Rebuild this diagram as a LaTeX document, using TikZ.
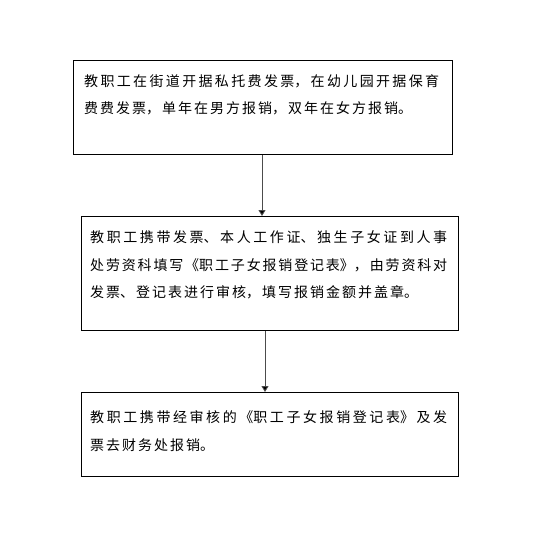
\documentclass[tikz,border=0pt]{standalone}
\usepackage{fontspec}
\newfontfamily\cjk{Noto Sans CJK SC}
\usetikzlibrary{arrows.meta}
\newcommand{\cjkpar}[2]{\parbox[t]{#1}{\cjk\fontsize{14pt}{27.5pt}\selectfont
  \XeTeXlinebreaklocale "zh"\XeTeXlinebreakskip=2pt plus 4pt minus 2pt\relax
  \parindent=0pt\parfillskip=0pt plus 1fil\relax #2}}
\tikzset{
  box/.style={draw=black, line width=1pt, rectangle, inner sep=0pt, anchor=north west},
  txt/.style={anchor=base west, inner sep=0pt},
  arr/.style={draw=black!70, line width=0.9pt, -{Triangle[width=7pt,length=6pt,fill=black]}}
}
\begin{document}
\begin{tikzpicture}[x=1pt,y=1pt]
\useasboundingbox (0,0) rectangle (534,-549);
% boxes
\node[box, minimum width=379pt, minimum height=94pt] (b1) at (73,-60) {};
\node[box, minimum width=377pt, minimum height=114pt] (b2) at (81,-216) {};
\node[box, minimum width=377pt, minimum height=84pt] (b3) at (81,-392) {};
% texts
\node[txt] (t1) at (84,-86) {\cjkpar{355pt}{教职工在街道开据私托费发票，在幼儿园开据保育\linebreak 费费发票，单年在男方报销，双年在女方报销。}};
\node[txt] (t2) at (90,-242.5) {\cjkpar{357pt}{教职工携带发票、本人工作证、独生子女证到人事\linebreak 处劳资科填写《职工子女报销登记表》，由劳资科对\linebreak 发票、登记表进行审核，填写报销金额并盖章。}};
\node[txt] (t3) at (90,-422.5) {\cjkpar{357pt}{教职工携带经审核的《职工子女报销登记表》及发\linebreak 票去财务处报销。}};
% arrows
\coordinate (x1) at (262,0);
\coordinate (x2) at (265,0);
\draw[arr] (x1 |- b1.south) -- (x1 |- b2.north);
\draw[arr] (x2 |- b2.south) -- (x2 |- b3.north);
\end{tikzpicture}
\end{document}
